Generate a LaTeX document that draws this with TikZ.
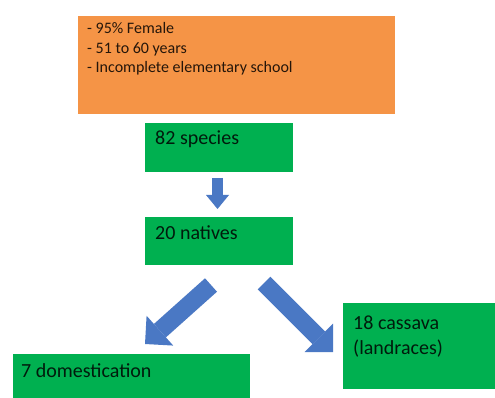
\documentclass[tikz,border=0pt]{standalone}
\usepackage{fontspec}
\setmainfont{Carlito}
\usetikzlibrary{arrows.meta}
\definecolor{boxorange}{HTML}{F59446}
\definecolor{boxgreen}{HTML}{00B050}
\definecolor{arrowblue}{HTML}{4A78C4}
\tikzset{
  obox/.style={fill=boxorange, draw=none, anchor=north west, inner sep=0pt},
  gbox/.style={fill=boxgreen, draw=none, anchor=north west, inner sep=0pt},
  otxt/.style={inner sep=0pt, anchor=base west, text=black!85!boxorange, font=\fontsize{16}{19.5}\selectfont},
  gtxt/.style={inner sep=0pt, anchor=base west, text=black!85!boxgreen, font=\fontsize{20}{24}\selectfont},
  smallarrow/.style={draw=arrowblue, line width=11pt, -{Triangle[width=23pt,length=14pt,line width=0pt]}},
  bigarrow/.style={draw=arrowblue, line width=18pt, -{Triangle[width=40pt,length=20pt,line width=0pt]}},
}
\begin{document}
\begin{tikzpicture}[x=1pt,y=-1pt]
\useasboundingbox[fill=white] (0,0) rectangle (495,398);
% boxes
\node[obox, minimum width=317pt, minimum height=98pt] (profile) at (78,16) {};
\node[gbox, minimum width=148pt, minimum height=49pt] (species) at (145,123) {};
\node[gbox, minimum width=148pt, minimum height=48pt] (natives) at (145,217) {};
\node[gbox, minimum width=237pt, minimum height=44pt] (domest) at (13,354) {};
\node[gbox, minimum width=152pt, minimum height=86pt] (cassava) at (343,303) {};
% texts
\node[otxt] (p1) at (87,34) {- 95\% Female};
\node[otxt] (p2) at (87,53.5) {- 51 to 60 years};
\node[otxt] (p3) at (87,73) {- Incomplete elementary school};
\node[gtxt] (t1) at (155,145) {82 species};
\node[gtxt] (t2) at (155,240) {20 natives};
\node[gtxt] (t3) at (21,377) {7 domestication};
\node[gtxt] (t4) at (353,329) {18 cassava};
\node[gtxt] (t5) at (353,354) {(landraces)};
% arrows
\coordinate (a1s) at (217.5,178);
\coordinate (a1e) at (217.5,209);
\coordinate (a2s) at (211,285);
\coordinate (a2e) at (145,344);
\coordinate (a3s) at (264,283);
\coordinate (a3e) at (333,352);
\draw[smallarrow] (a1s) -- (a1e);
\draw[bigarrow] (a2s) -- (a2e);
\draw[bigarrow] (a3s) -- (a3e);
\end{tikzpicture}
\end{document}
